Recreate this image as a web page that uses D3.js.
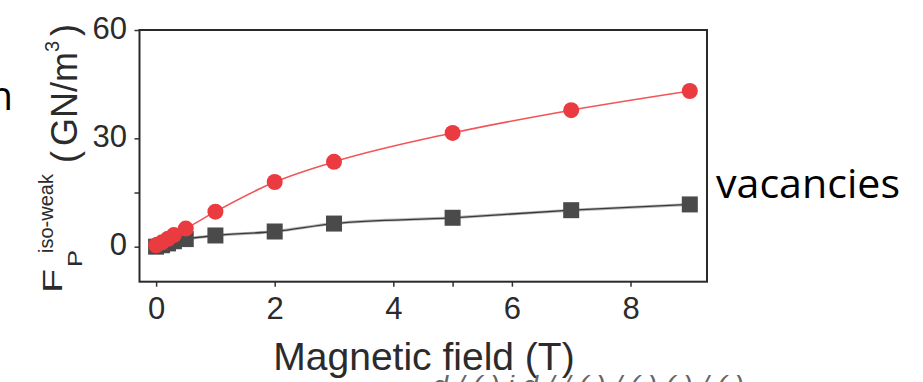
<!DOCTYPE html>
<html>
<head>
<meta charset="utf-8">
<script src="https://cdn.jsdelivr.net/npm/d3@7"></script>
<style>
  html, body { margin: 0; padding: 0; background: #ffffff; }
  svg { display: block; }
</style>
</head>
<body>
<svg id="chart" width="923" height="382"></svg>
<script>
// ---- data ----
const fieldT = [0, 0.1, 0.2, 0.3, 0.5, 1, 2, 3, 5, 7, 9];
const redSeries = [0.4, 1.2, 2.2, 3.2, 5.0, 9.7, 17.9, 23.5, 31.5, 37.8, 43.1];
const blackSeries = [0, 0.4, 0.9, 1.5, 2.1, 3.1, 4.2, 6.4, 8.0, 10.1, 11.7];
const xTickValues = [0, 2, 4, 6, 8];
const xMinorTicks = [5];
const yTickValues = [0, 30, 60];
const yMinorTicks = [15];
const xTitle = "Magnetic field (T)";

const svg = d3.select("#chart");
const pLeft = 139.5, pRight = 707, pTop = 30, pBottom = 281.7;

const x = d3.scaleLinear().domain([-0.28, 9.29]).range([pLeft, pRight]);
const y = d3.scaleLinear().domain([-9.7, 60]).range([pBottom, pTop]);

const axisFont = "'Liberation Sans', Arial, sans-serif";
const textColor = "#2b2b2b";

// x axis
const gx = svg.append("g").attr("transform", `translate(0,${pBottom})`)
  .call(d3.axisBottom(x).tickValues(xTickValues).tickSize(5).tickPadding(10).tickFormat(d3.format("d")));
gx.append("g").call(d3.axisBottom(x).tickValues(xMinorTicks).tickSize(5).tickFormat(""));
gx.selectAll(".domain").remove();
gx.selectAll("line").attr("stroke", "#333").attr("stroke-width", 1.5);
gx.selectAll("text").attr("font-family", axisFont).attr("font-size", 31).attr("fill", textColor);

// y axis
const gy = svg.append("g").attr("transform", `translate(${pLeft},0)`)
  .call(d3.axisLeft(y).tickValues(yTickValues).tickSize(5).tickPadding(7.5).tickFormat(d3.format("d")));
gy.append("g").call(d3.axisLeft(y).tickValues(yMinorTicks).tickSize(5).tickFormat(""));
gy.selectAll(".domain").remove();
gy.selectAll("line").attr("stroke", "#333").attr("stroke-width", 1.5);
gy.selectAll("text").attr("font-family", axisFont).attr("font-size", 31).attr("fill", textColor)
  .attr("dy", "0.26em");

// frame
svg.append("rect").attr("x", pLeft).attr("y", pTop)
  .attr("width", pRight - pLeft).attr("height", pBottom - pTop)
  .attr("fill", "none").attr("stroke", "#2a2a2a").attr("stroke-width", 2);

// lines
const line = (vals) => d3.line().curve(d3.curveMonotoneX)
  .x((d, i) => x(fieldT[i])).y(d => y(d))(vals);

svg.append("path").attr("d", line(blackSeries))
  .attr("fill", "none").attr("stroke", "#8a8a8a").attr("stroke-width", 3).attr("opacity", 0.6);
svg.append("path").attr("d", line(blackSeries))
  .attr("fill", "none").attr("stroke", "#3a3a3a").attr("stroke-width", 1.3);

const sq = 16;
svg.append("g").selectAll("rect").data(blackSeries).join("rect")
  .attr("x", (d, i) => x(fieldT[i]) - sq / 2)
  .attr("y", d => y(d) - sq / 2)
  .attr("width", sq).attr("height", sq)
  .attr("fill", "#4a4a4a");

svg.append("path").attr("d", line(redSeries))
  .attr("fill", "none").attr("stroke", "#f25458").attr("stroke-width", 1.6);

svg.append("g").selectAll("circle").data(redSeries).join("circle")
  .attr("cx", (d, i) => x(fieldT[i]))
  .attr("cy", d => y(d))
  .attr("r", 8)
  .attr("fill", "#ea3b40");

// x title
svg.append("text").attr("x", 424).attr("y", 370)
  .attr("text-anchor", "middle")
  .attr("font-family", axisFont).attr("font-size", 39).attr("fill", textColor)
  .text(xTitle);

// y title (rotated)
const yt = svg.append("g").attr("transform", "translate(62,293) rotate(-90)")
  .attr("font-family", axisFont).attr("fill", textColor);
yt.append("text").attr("x", 0).attr("y", 0).attr("font-size", 28)
  .attr("textLength", 24).attr("lengthAdjust", "spacingAndGlyphs").text("F");
yt.append("text").attr("x", 26).attr("y", 20).attr("font-size", 20)
  .attr("textLength", 17).attr("lengthAdjust", "spacingAndGlyphs").text("P");
yt.append("text").attr("x", 40).attr("y", -9).attr("font-size", 20).text("iso-weak");
const unit = yt.append("text").attr("x", 130).attr("y", 15).attr("font-size", 36);
unit.append("tspan").text("(");
unit.append("tspan").attr("dx", 5).text("GN/m");
unit.append("tspan").attr("dy", -18).attr("font-size", 20).text("3");
unit.append("tspan").attr("dy", 18).attr("dx", 5).text(")");

// surrounding slide text
const slideFont = "'Open Sans', 'Noto Sans', sans-serif";
svg.append("text").attr("x", 716).attr("y", 198)
  .attr("font-family", slideFont).attr("font-size", 40).attr("fill", "#000")
  .attr("textLength", 184).attr("lengthAdjust", "spacingAndGlyphs")
  .text("vacancies");
svg.append("text").attr("x", 13).attr("y", 110).attr("text-anchor", "end")
  .attr("font-family", slideFont).attr("font-size", 40).attr("fill", "#000")
  .text("n");
svg.append("text").attr("x", 432).attr("y", 394)
  .attr("font-family", axisFont).attr("font-style", "italic")
  .attr("font-size", 26).attr("fill", "#666")
  .attr("textLength", 312).attr("lengthAdjust", "spacingAndGlyphs")
  .text("d  / ( )  i   d / / ( ) / ( ) ( ) / ( )");
</script>
</body>
</html>
